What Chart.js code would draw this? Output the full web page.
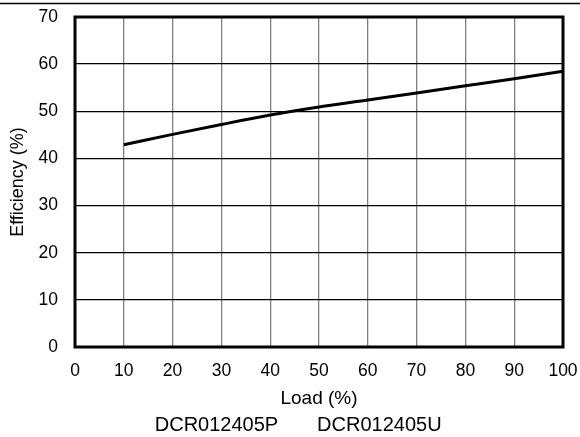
<!DOCTYPE html>
<html>
<head>
<meta charset="utf-8">
<script src="https://cdn.jsdelivr.net/npm/chart.js@4"></script>
<style>
  html, body { margin: 0; padding: 0; background: #fff; }
  #wrap { width: 580px; height: 437px; }
</style>
</head>
<body>
<div id="wrap"><canvas id="effChart" width="580" height="437"></canvas></div>
<script>
var loadPct = [10, 20, 30, 40, 50, 60, 70, 80, 90, 100];
var efficiency = [42.9, 45.1, 47.2, 49.2, 50.9, 52.4, 53.9, 55.4, 56.9, 58.5];
var xTicks = [0, 10, 20, 30, 40, 50, 60, 70, 80, 90, 100];
var yTicks = [0, 10, 20, 30, 40, 50, 60, 70];
// leading spaces push the centred caption a little to the right, like the original
var partNames = "      DCR012405P       DCR012405U";

Chart.defaults.font.family = "'Liberation Sans', Arial, sans-serif";
Chart.defaults.color = "#000";

// frame round the plot + rule at top of picture
var framePlugin = {
  id: "frame",
  afterDraw: function(chart){
    var ctx = chart.ctx;
    var a = chart.chartArea;
    ctx.save();
    ctx.strokeStyle = "#000";
    ctx.lineWidth = 3;
    ctx.strokeRect(a.left, a.top, a.right - a.left, a.bottom - a.top);
    ctx.lineWidth = 1.6;
    ctx.beginPath();
    ctx.moveTo(0, 3.5);
    ctx.lineTo(chart.width, 3.5);
    ctx.stroke();
    ctx.restore();
  }
};

var ctx = document.getElementById("effChart");
var chart = new Chart(ctx, {
  type: "line",
  data: {
    datasets: [{
      data: loadPct.map(function(x, i){ return {x: x, y: efficiency[i]}; }),
      borderColor: "#000",
      borderWidth: 3,
      pointRadius: 0,
      cubicInterpolationMode: "monotone",
      fill: false
    }]
  },
  options: {
    responsive: false,
    animation: false,
    layout: { padding: { left: 0, right: 17, top: 17, bottom: 0 } },
    plugins: {
      legend: { display: false },
      tooltip: { enabled: false },
      title: {
        display: true,
        position: "bottom",
        text: partNames,
        font: { size: 20, weight: "normal" },
        padding: { top: 0, bottom: 0 }
      }
    },
    scales: {
      x: {
        type: "linear",
        min: 0,
        max: 100,
        afterBuildTicks: function(s){ s.ticks = xTicks.map(function(v){ return {value: v}; }); },
        ticks: { font: { size: 17.5 }, padding: 14, maxRotation: 0 },
        grid: { color: "#808080", lineWidth: 1.3, drawTicks: false },
        border: { display: false },
        title: { display: true, text: "Load (%)", font: { size: 19 }, padding: { top: 0, bottom: 3 } },
        afterFit: function(s){ s.height = 66; s.paddingLeft = 0; s.paddingRight = 0; }
      },
      y: {
        min: 0,
        max: 70,
        afterBuildTicks: function(s){ s.ticks = yTicks.map(function(v){ return {value: v}; }); },
        ticks: { font: { size: 17.5 }, padding: 17 },
        grid: { color: "#000", lineWidth: 1.3, drawTicks: false },
        border: { display: false },
        title: { display: true, text: "Efficiency (%)", font: { size: 18 }, padding: { top: 7, bottom: 0 } },
        afterFit: function(s){ s.width = 75; s.paddingTop = 0; s.paddingBottom = 0; }
      }
    }
  },
  plugins: [framePlugin]
});
</script>
</body>
</html>
